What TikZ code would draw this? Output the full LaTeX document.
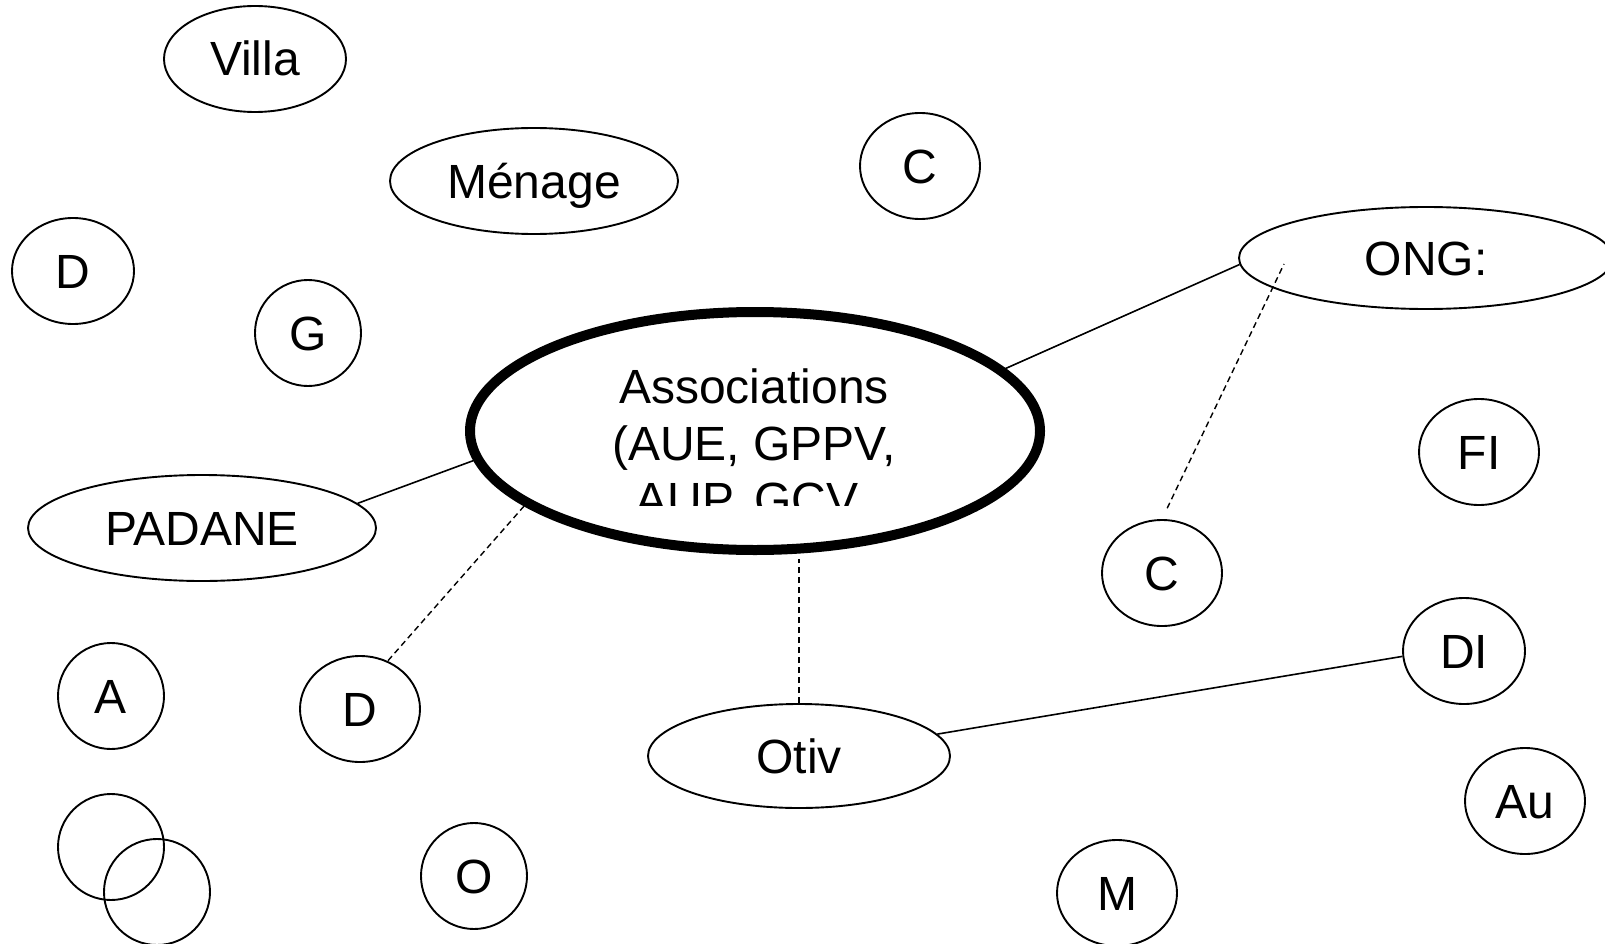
\documentclass[tikz,border=0pt]{standalone}
\usepackage{fontspec}
\setmainfont{Liberation Sans}
\usetikzlibrary{shapes.geometric,calc}
\begin{document}
\begin{tikzpicture}[x=1pt,y=-1pt,
  bubble/.style={draw, ellipse, line width=1.9pt, inner sep=0pt,
    text height=34pt, text depth=0pt, font=\fontsize{48}{56}\selectfont},
  bubsize/.style 2 args={minimum width=#1pt, minimum height=#2pt},
  hub/.style={draw, ellipse, line width=10pt, inner sep=0pt},
  hubtext/.style={anchor=base, inner sep=0pt, font=\fontsize{48}{56}\selectfont},
  link/.style={line width=1.6pt},
  dashedlink/.style={line width=1.4pt, dash pattern=on 6pt off 4pt}]
\useasboundingbox (0,0) rectangle (1605,944);

% central association bubble
\node[hub, minimum width=570pt, minimum height=238pt] (assoc) at (755,431) {};
\begin{scope}
  \clip (470,330) rectangle (1040,505);
  \node[hubtext] (asst1) at (754,403) {Associations};
  \node[hubtext] (asst2) at (754,460) {(AUE, GPPV,};
  \node[hubtext] (asst3) at (747,516) {AUP, GCV};
\end{scope}

% surrounding actors
\node[bubble, bubsize={182}{106}] (villa)  at (255,59)   {Villa};
\node[bubble, bubsize={288}{106}] (menage) at (534,181)  {Ménage};
\node[bubble, bubsize={120}{106}] (ctop)   at (920,166)  {C};
\node[bubble, bubsize={122}{106}] (dleft)  at (73,271)   {D};
\node[bubble, bubsize={106}{106}] (g)      at (308,333)  {G};
\node[bubble, bubsize={374}{102}] (ong)    at (1426,258) {ONG:};
\node[bubble, bubsize={120}{106}] (fi)     at (1479,452) {FI};
\node[bubble, bubsize={348}{106}] (padane) at (202,528)  {PADANE};
\node[bubble, bubsize={120}{106}] (cmid)   at (1162,573) {C};
\node[bubble, bubsize={122}{106}] (di)     at (1464,651) {DI};
\node[bubble, bubsize={106}{106}] (a)      at (111,696)  {A};
\node[bubble, bubsize={120}{106}] (dlow)   at (360,709)  {D};
\node[bubble, bubsize={302}{104}] (otiv)   at (799,756)  {Otiv};
\node[bubble, bubsize={120}{106}] (au)     at (1525,801) {Au};
\node[bubble, bubsize={106}{106}] (ring1)  at (111,847)  {};
\node[bubble, bubsize={106}{106}] (ring2)  at (157,892)  {};
\node[bubble, bubsize={106}{106}] (o)      at (474,876)  {O};
\node[bubble, bubsize={120}{106}] (m)      at (1117,893) {M};

% connectors
\draw[link] (assoc.14) -- (ong.182);
\draw[link] (assoc.186) -- (padane.9);
\draw[link] (otiv.9) -- (di.185);
\draw[dashedlink] (assoc.198) -- (dlow.60);
\draw[dashedlink, shorten >=4pt] (otiv.north) -- (otiv.north |- assoc.south);
\coordinate (onginner) at ($(ong.center)+(-142,6)$);
\draw[dashedlink, shorten <=12pt] (cmid.north) -- (onginner);
\end{tikzpicture}
\end{document}
